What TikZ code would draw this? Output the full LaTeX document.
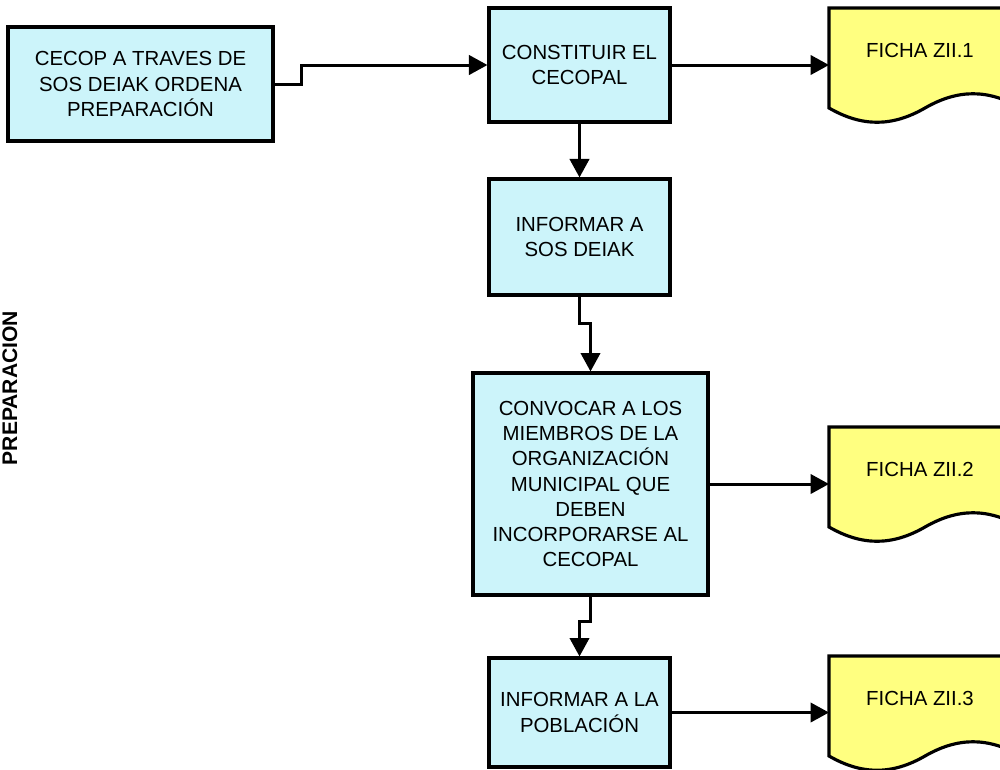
\documentclass[tikz,border=0pt]{standalone}
\usepackage{fontspec}
\setmainfont{Liberation Sans}
\usepackage{tikz}
\usetikzlibrary{arrows.meta,calc}
\definecolor{cajacyan}{RGB}{204,244,250}
\definecolor{fichayel}{RGB}{255,255,128}

\begin{document}
\begin{tikzpicture}[x=0.02cm,y=-0.02cm,
	caja/.style={draw,fill=cajacyan,line width=1.8pt,align=center,inner sep=0pt,
		font=\fontsize{11.6}{14.3}\selectfont},
	ficha/.style={draw,fill=fichayel,line width=1.8pt},
	flecha/.style={line width=1.7pt,-{Triangle[length=10.5pt,width=11pt]}}]
					\useasboundingbox (0,0) rectangle (1000,769);
					%CAJAS
					\node[caja,minimum width=5.3cm,minimum height=2.28cm] (A) at (140.5,84) {CECOP A TRAVES DE\\SOS DEIAK ORDENA\\PREPARACIÓN};
					\node[caja,minimum width=3.62cm,minimum height=2.28cm] (B) at (579.5,65) {CONSTITUIR EL\\CECOPAL};
					\node[caja,minimum width=3.62cm,minimum height=2.32cm] (C) at (579.5,237) {INFORMAR A\\SOS DEIAK};
					\node[caja,minimum width=4.7cm,minimum height=4.44cm] (D) at (590.5,484) {CONVOCAR A LOS\\MIEMBROS DE LA\\ORGANIZACIÓN\\MUNICIPAL QUE\\DEBEN\\INCORPORARSE AL\\CECOPAL};
					\node[caja,minimum width=3.62cm,minimum height=2.18cm] (E) at (579.5,712.5) {INFORMAR A LA\\POBLACIÓN};
					%FICHAS
					\draw[ficha] (829,8) coordinate (f1) -- (1021,8) -- (1021,108) .. controls +(-33,-19) and +(33,-19) .. (925,108) .. controls +(-33,19) and +(33,19) .. (829,108) -- cycle;
					\draw[ficha] (829,427) coordinate (f2) -- (1021,427) -- (1021,527) .. controls +(-33,-19) and +(33,-19) .. (925,527) .. controls +(-33,19) and +(33,19) .. (829,527) -- cycle;
					\draw[ficha] (829,656) coordinate (f3) -- (1021,656) -- (1021,756) .. controls +(-33,-19) and +(33,-19) .. (925,756) .. controls +(-33,19) and +(33,19) .. (829,756) -- cycle;
					\node[font=\fontsize{11.6}{14.3}\selectfont] (t1) at (920,50) {FICHA ZII.1};
					\node[font=\fontsize{11.6}{14.3}\selectfont] (t2) at (920,469) {FICHA ZII.2};
					\node[font=\fontsize{11.6}{14.3}\selectfont] (t3) at (920,698) {FICHA ZII.3};
					%TITULO
					\node[rotate=90,anchor=base,font=\fontsize{12}{14}\selectfont\bfseries] (prep) at (17,388) {PREPARACION};
					%FLECHAS
					\draw[flecha] (A.east) -- ++(27,0) |- (B.west);
					\draw[flecha] (B.east) -- (B.east -| f1);
					\draw[flecha] (B.south) -- (C.north);
					\draw[flecha] (C.south) -- ++(0,27) -| (D.north);
					\draw[flecha] (D.east) -- (D.east -| f2);
					\draw[flecha] (D.south) -- ++(0,25) -| (E.north);
					\draw[flecha] (E.east) -- (E.east -| f3);
\end{tikzpicture}
\end{document}
